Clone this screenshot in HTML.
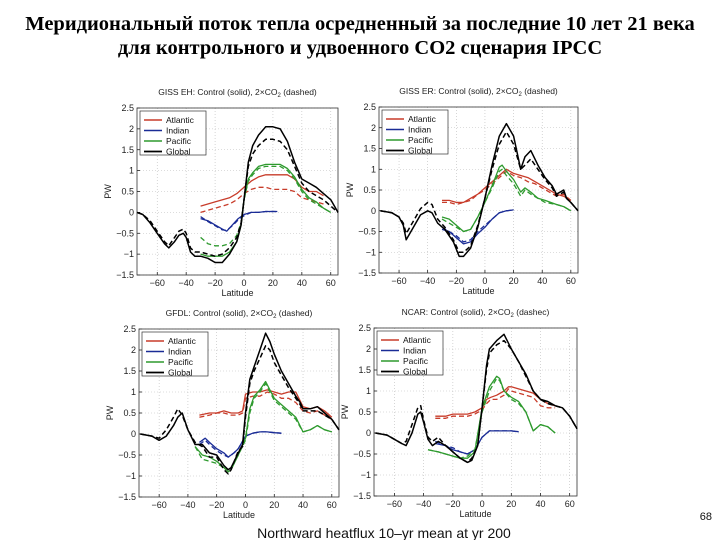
<!DOCTYPE html>
<html><head><meta charset="utf-8">
<style>
html,body{margin:0;padding:0;background:#fff;}
body{width:720px;height:540px;position:relative;overflow:hidden;}
.title{position:absolute;left:0;width:720px;text-align:center;font-family:"Liberation Serif",serif;font-weight:bold;font-size:20.5px;line-height:24px;color:#000;}
svg text{font-family:"Liberation Sans",sans-serif;}
</style></head>
<body>
<div class="title" style="top:12px">Меридиональный поток тепла осредненный за последние 10 лет 21 века</div>
<div class="title" style="top:36px">для контрольного и удвоенного CO2 сценария IPCC</div>
<svg id="chart" width="720" height="540" style="position:absolute;left:0;top:0"></svg>
<script>
// ---- Panel 1: GISS EH ----
const p1GlobalLat=[-74,-70,-65,-60,-55,-52,-48,-45,-42,-40,-37,-34,-30,-25,-20,-15,-10,-5,-2,0,3,6,10,15,20,25,30,35,40,45,50,55,60,65];
const p1GlobalSolid=[0,-0.05,-0.25,-0.5,-0.75,-0.85,-0.7,-0.55,-0.5,-0.6,-0.95,-1.05,-1.05,-1.1,-1.2,-1.2,-1.0,-0.7,-0.3,0.3,1.2,1.6,1.85,2.05,2.05,2.0,1.7,1.2,0.8,0.7,0.6,0.45,0.3,0.0];
const p1GlobalDashed=[0,-0.05,-0.2,-0.45,-0.7,-0.8,-0.6,-0.45,-0.4,-0.5,-0.85,-0.95,-0.95,-1.0,-1.05,-1.0,-0.85,-0.6,-0.25,0.3,1.1,1.4,1.6,1.75,1.75,1.7,1.5,1.1,0.7,0.5,0.4,0.3,0.15,0.0];
const p1AtlLat=[-30,-20,-10,-5,0,5,10,15,20,25,30,35,40,45,50,55];
const p1AtlSolid=[0.15,0.25,0.35,0.45,0.6,0.75,0.85,0.9,0.9,0.9,0.9,0.8,0.6,0.5,0.5,0.4];
const p1AtlDashed=[0,0.1,0.2,0.3,0.45,0.55,0.6,0.6,0.55,0.55,0.55,0.5,0.35,0.3,0.25,0.2];
const p1IndLat=[-30,-25,-20,-15,-12,-8,-4,0,5,10,15,20,23];
const p1IndSolid=[-0.15,-0.2,-0.3,-0.4,-0.45,-0.3,-0.15,-0.05,0,0,0.02,0.02,0.02];
const p1IndDashed=[-0.1,-0.22,-0.32,-0.42,-0.43,-0.32,-0.18,-0.08,0,0,0.02,0.02,0.02];
const p1PacLat=[-30,-25,-20,-15,-10,-5,-2,0,3,6,10,15,20,25,30,35,40,45,50,55,60];
const p1PacSolid=[-1.0,-1.05,-1.05,-1.05,-0.95,-0.7,-0.3,0.3,0.8,0.95,1.1,1.15,1.15,1.15,1.05,0.85,0.55,0.35,0.25,0.1,0.0];
const p1PacDashed=[-0.6,-0.75,-0.8,-0.8,-0.75,-0.55,-0.25,0.3,0.75,0.9,1.05,1.1,1.1,1.1,1.0,0.8,0.5,0.3,0.2,0.1,0.0];
// ---- Panel 2: GISS ER ----
const p2GlobalLat=[-73,-65,-60,-57,-55,-50,-45,-40,-37,-33,-28,-22,-18,-15,-10,-5,0,5,10,15,20,25,28,32,37,42,47,50,55,57,60,65];
const p2GlobalSolid=[0,-0.05,-0.15,-0.35,-0.7,-0.4,-0.1,0.0,-0.05,-0.3,-0.45,-0.75,-1.1,-1.1,-0.9,-0.4,0.3,1.1,1.8,2.1,1.8,1.0,1.3,1.45,1.1,0.8,0.6,0.4,0.5,0.3,0.2,0];
const p2GlobalDashed=[0,-0.05,-0.15,-0.3,-0.55,-0.25,0.05,0.2,0.15,-0.2,-0.4,-0.7,-1.0,-1.0,-0.85,-0.35,0.3,1.0,1.6,1.9,1.6,1.0,1.1,1.25,1.0,0.75,0.55,0.35,0.45,0.3,0.2,0];
const p2AtlLat=[-30,-25,-20,-15,-10,-5,0,5,10,15,20,25,30,35,40,45,50,55,60];
const p2AtlSolid=[0.25,0.25,0.2,0.2,0.3,0.4,0.55,0.7,0.85,1.0,0.9,0.85,0.8,0.7,0.6,0.5,0.4,0.35,0.25];
const p2AtlDashed=[0.2,0.2,0.15,0.2,0.25,0.4,0.5,0.65,0.8,0.95,0.85,0.8,0.7,0.65,0.55,0.45,0.35,0.4,0.25];
const p2IndLat=[-30,-25,-20,-15,-10,-5,0,5,10,15,20];
const p2IndSolid=[-0.45,-0.5,-0.65,-0.8,-0.75,-0.55,-0.4,-0.2,-0.05,0,0.02];
const p2IndDashed=[-0.4,-0.5,-0.6,-0.75,-0.7,-0.5,-0.35,-0.2,-0.05,0,0.02];
const p2PacLat=[-30,-25,-20,-15,-10,-5,0,5,10,12,15,20,25,28,32,37,42,50,55,60];
const p2PacSolid=[-0.15,-0.2,-0.35,-0.5,-0.45,-0.15,0.2,0.6,1.05,1.1,0.95,0.75,0.45,0.55,0.45,0.3,0.25,0.15,0.1,0];
const p2PacDashed=[-0.2,-0.3,-0.4,-0.5,-0.45,-0.15,0.2,0.55,0.95,1.0,0.85,0.65,0.35,0.5,0.4,0.3,0.2,0.15,0.1,0];
// ---- Panel 3: GFDL ----
const p3GlobalLat=[-73,-65,-60,-55,-50,-47,-44,-40,-35,-30,-25,-20,-15,-12,-10,-5,-2,0,3,6,10,14,17,20,25,30,35,38,40,45,50,55,60,65];
const p3GlobalSolid=[0,-0.05,-0.15,-0.05,0.2,0.4,0.5,0.1,-0.25,-0.25,-0.45,-0.5,-0.75,-0.85,-0.8,-0.45,-0.25,0.5,1.3,1.6,2.0,2.4,2.2,1.9,1.5,1.2,0.9,0.75,0.6,0.6,0.65,0.5,0.35,0.1];
const p3GlobalDashed=[0,-0.05,-0.1,0.1,0.4,0.6,0.45,0.1,-0.2,-0.3,-0.55,-0.55,-0.85,-0.95,-0.85,-0.4,-0.3,0.4,1.2,1.5,1.8,2.1,2.0,1.7,1.4,1.1,0.85,0.7,0.55,0.55,0.55,0.45,0.35,0.1];
const p3AtlLat=[-32,-25,-20,-15,-10,-5,-2,0,5,10,15,20,25,30,35,40,45,50,55,60];
const p3AtlSolid=[0.45,0.5,0.5,0.55,0.5,0.5,0.55,0.95,1.0,1.0,1.05,1.0,0.95,1.0,1.0,0.65,0.6,0.65,0.55,0.4];
const p3AtlDashed=[0.4,0.45,0.5,0.5,0.45,0.45,0.5,0.85,0.9,0.9,1.0,0.95,0.85,0.85,0.75,0.55,0.5,0.55,0.45,0.35];
const p3IndLat=[-32,-30,-28,-25,-20,-15,-12,-8,-5,0,5,10,15,20,25];
const p3IndSolid=[-0.2,-0.15,-0.1,-0.2,-0.35,-0.45,-0.55,-0.45,-0.35,-0.05,0.02,0.05,0.05,0.03,0.02];
const p3IndDashed=[-0.25,-0.2,-0.15,-0.25,-0.4,-0.5,-0.55,-0.45,-0.35,-0.05,0.02,0.05,0.05,0.03,0.02];
const p3PacLat=[-35,-30,-25,-20,-15,-12,-10,-5,0,3,6,10,14,17,20,25,30,35,40,45,50,55,60];
const p3PacSolid=[-0.3,-0.5,-0.55,-0.65,-0.8,-0.9,-0.85,-0.5,-0.1,0.6,0.9,1.05,1.25,1.05,0.85,0.7,0.55,0.4,0.05,0.1,0.2,0.1,0.05];
const p3PacDashed=[-0.3,-0.6,-0.65,-0.7,-0.8,-0.85,-0.8,-0.5,-0.15,0.5,0.85,1.0,1.2,1.0,0.8,0.65,0.5,0.35,0.05,0.1,0.2,0.1,0.05];
// ---- Panel 4: NCAR ----
const p4GlobalLat=[-73,-65,-60,-55,-52,-48,-44,-42,-40,-37,-34,-30,-25,-20,-15,-10,-7,-3,0,3,5,10,15,20,25,30,35,40,45,50,55,60,65];
const p4GlobalSolid=[0,-0.05,-0.15,-0.25,-0.3,0.0,0.45,0.5,0.25,-0.15,-0.3,-0.2,-0.3,-0.45,-0.6,-0.7,-0.65,-0.3,0.6,1.6,2.0,2.2,2.35,2.0,1.7,1.4,1.0,0.8,0.75,0.65,0.6,0.4,0.1];
const p4GlobalDashed=[0,-0.05,-0.15,-0.25,-0.2,0.2,0.6,0.65,0.3,-0.1,-0.2,-0.1,-0.3,-0.45,-0.6,-0.7,-0.6,-0.3,0.6,1.5,1.9,2.1,2.2,2.0,1.7,1.35,1.0,0.8,0.7,0.65,0.6,0.4,0.1];
const p4AtlLat=[-32,-25,-20,-15,-10,-5,0,3,6,10,15,18,20,25,30,35,40,45,50];
const p4AtlSolid=[0.4,0.4,0.45,0.45,0.45,0.5,0.6,0.8,0.85,0.9,1.0,1.1,1.1,1.05,1.0,0.95,0.8,0.7,0.65];
const p4AtlDashed=[0.35,0.35,0.4,0.4,0.4,0.45,0.55,0.7,0.8,0.8,0.9,1.05,1.0,0.95,0.9,0.85,0.65,0.6,0.6];
const p4IndLat=[-32,-25,-20,-15,-10,-5,0,5,10,15,20,25];
const p4IndSolid=[-0.25,-0.3,-0.4,-0.45,-0.5,-0.4,-0.1,0.05,0.05,0.05,0.05,0.03];
const p4IndDashed=[-0.2,-0.3,-0.35,-0.45,-0.5,-0.4,-0.1,0.05,0.05,0.05,0.05,0.03];
const p4PacLat=[-37,-30,-25,-20,-15,-10,-5,0,5,10,12,15,20,25,30,35,40,45,50];
const p4PacSolid=[-0.4,-0.45,-0.5,-0.55,-0.6,-0.6,-0.45,0.6,1.1,1.35,1.3,1.0,0.85,0.75,0.5,0.05,0.2,0.15,0.0];
const p4PacDashed=[-0.4,-0.45,-0.5,-0.55,-0.6,-0.55,-0.4,0.5,1.0,1.3,1.25,1.0,0.8,0.7,0.5,0.05,0.2,0.15,0.0];
// ---- shared ticks ----
const xTicks=[-60,-40,-20,0,20,40,60];
const yTicks=[-1.5,-1,-0.5,0,0.5,1,1.5,2,2.5];
const yTickLabels=["\u22121.5","\u22121","\u22120.5","0","0.5","1","1.5","2","2.5"];
const xTickLabels=["\u221260","\u221240","\u221220","0","20","40","60"];
const legendNames=["Atlantic","Indian","Pacific","Global"];
const panelTitles=["GISS EH: Control (solid),  2\u00d7CO","GISS ER: Control (solid),  2\u00d7CO","GFDL: Control (solid),  2\u00d7CO","NCAR: Control (solid),  2\u00d7CO"];
const panelTitleEnd=[" (dashed)"," (dashed)"," (dashed)"," (dashec)"];

const NS="http://www.w3.org/2000/svg";
const svg=document.getElementById('chart');
const COLORS={Atlantic:"#c83c2a",Indian:"#1a2c96",Pacific:"#2e9a2e",Global:"#000"};
function mk(tag,attrs,parent){const e=document.createElementNS(NS,tag);for(const k in attrs)e.setAttribute(k,attrs[k]);(parent||svg).appendChild(e);return e;}

const panels=[
 {L:137,R:338,T:108,B:275,key:"giss-eh",series:[["Atlantic",p1AtlLat,p1AtlSolid,p1AtlDashed],["Indian",p1IndLat,p1IndSolid,p1IndDashed],["Pacific",p1PacLat,p1PacSolid,p1PacDashed],["Global",p1GlobalLat,p1GlobalSolid,p1GlobalDashed]]},
 {L:379,R:578,T:107,B:273,key:"giss-er",series:[["Atlantic",p2AtlLat,p2AtlSolid,p2AtlDashed],["Indian",p2IndLat,p2IndSolid,p2IndDashed],["Pacific",p2PacLat,p2PacSolid,p2PacDashed],["Global",p2GlobalLat,p2GlobalSolid,p2GlobalDashed]]},
 {L:139,R:339,T:329,B:497,key:"gfdl",series:[["Atlantic",p3AtlLat,p3AtlSolid,p3AtlDashed],["Indian",p3IndLat,p3IndSolid,p3IndDashed],["Pacific",p3PacLat,p3PacSolid,p3PacDashed],["Global",p3GlobalLat,p3GlobalSolid,p3GlobalDashed]]},
 {L:374,R:577,T:328,B:496,key:"ncar",series:[["Atlantic",p4AtlLat,p4AtlSolid,p4AtlDashed],["Indian",p4IndLat,p4IndSolid,p4IndDashed],["Pacific",p4PacLat,p4PacSolid,p4PacDashed],["Global",p4GlobalLat,p4GlobalSolid,p4GlobalDashed]]}
];
const XMIN=-74,XMAX=65,YMIN=-1.5,YMAX=2.5;

panels.forEach((p,pi)=>{
  const g=mk('g',{});
  
  
  const xs=v=>p.L+(v-XMIN)/(XMAX-XMIN)*(p.R-p.L);
  const ys=v=>p.B-(v-YMIN)/(YMAX-YMIN)*(p.B-p.T);
  xTicks.forEach((t,i)=>{
    const x=xs(t);
    const gl=mk('line',{x1:x,x2:x,y1:p.T,y2:p.B,stroke:"#bbb","stroke-width":0.6,"stroke-dasharray":"1,2"},g);
    
    
    mk('line',{x1:x,x2:x,y1:p.B,y2:p.B-3,stroke:"#000","stroke-width":0.7},g);
    const tx=mk('text',{x:x,y:p.B+11,"font-size":9,"text-anchor":"middle",fill:"#222"},g);
    tx.textContent=xTickLabels[i];
    
    
  });
  yTicks.forEach((t,i)=>{
    const y=ys(t);
    const gl=mk('line',{x1:p.L,x2:p.R,y1:y,y2:y,stroke:"#bbb","stroke-width":0.6,"stroke-dasharray":"1,2"},g);
    
    
    mk('line',{x1:p.L,x2:p.L+3,y1:y,y2:y,stroke:"#000","stroke-width":0.7},g);
    const tx=mk('text',{x:p.L-3,y:y+3,"font-size":9,"text-anchor":"end",fill:"#222"},g);
    tx.textContent=yTickLabels[i];
    
    
  });
  const fr=mk('rect',{x:p.L,y:p.T,width:p.R-p.L,height:p.B-p.T,fill:"none",stroke:"#333","stroke-width":0.8},g);
  
  
  p.series.forEach(s=>{
    const [name,lat,sol,dash]=s;
    const w=name==="Global"?1.5:1.3;
    [[sol,null,'solid'],[dash,"5,3",'dashed']].forEach(([vals,da,kind])=>{
      const d=lat.map((la,i)=>(i?'L':'M')+xs(la).toFixed(1)+','+ys(vals[i]).toFixed(1)).join('');
      const a={d:d,fill:"none",stroke:COLORS[name],"stroke-width":w,"stroke-linejoin":"round"};
      if(da)a["stroke-dasharray"]=da;
      const path=mk('path',a,g);
      
      
    });
  });
  const lg=mk('g',{},g);
  
  
  mk('rect',{x:p.L+3,y:p.T+3,width:66,height:44,fill:"#fff",stroke:"#333","stroke-width":0.7},lg);
  legendNames.forEach((n,i)=>{
    const y=p.T+12+i*10.5;
    mk('line',{x1:p.L+7,x2:p.L+25,y1:y,y2:y,stroke:COLORS[n],"stroke-width":n==="Global"?1.8:1.4},lg);
    const t=mk('text',{x:p.L+29,y:y+3,"font-size":8.5,fill:"#111"},lg);
    t.textContent=n;
    
    
  });
  const tt=mk('text',{x:(p.L+p.R)/2,y:p.T-13,"font-size":8.5,"text-anchor":"middle",fill:"#222"},g);
  
  
  tt.appendChild(document.createTextNode(panelTitles[pi]));
  const sub=document.createElementNS(NS,'tspan');sub.setAttribute('font-size','6');sub.setAttribute('dy','2');sub.textContent='2';tt.appendChild(sub);
  const end=document.createElementNS(NS,'tspan');end.setAttribute('dy','-2');end.textContent=panelTitleEnd[pi];tt.appendChild(end);
  const xl=mk('text',{x:(p.L+p.R)/2,y:p.B+21,"font-size":9,"text-anchor":"middle",fill:"#222"},g);
  xl.textContent="Latitude";
  
  
  const yl=mk('text',{x:p.L-26,y:(p.T+p.B)/2,"font-size":9,"text-anchor":"middle",fill:"#222",transform:`rotate(-90 ${p.L-26} ${(p.T+p.B)/2})`},g);
  yl.textContent="PW";
  
  
});
const foot=mk('text',{x:384,y:538,"font-size":14,"text-anchor":"middle",fill:"#111"});
foot.textContent="Northward heatflux 10\u2013yr mean at yr 200";


const pg=mk('text',{x:712,y:520,"font-size":11,"text-anchor":"end",fill:"#111"});
pg.textContent="68";


</script>
</body></html>
